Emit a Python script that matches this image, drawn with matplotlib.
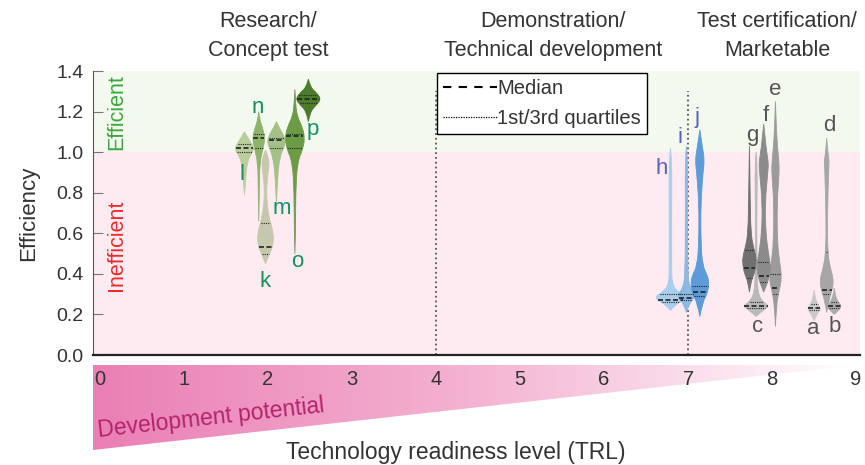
import numpy as np
import matplotlib.pyplot as plt
from matplotlib.path import Path
from matplotlib.patches import PathPatch, Polygon
from matplotlib.lines import Line2D
from matplotlib.colors import LinearSegmentedColormap

plt.rcParams['font.family'] = ['Liberation Sans', 'DejaVu Sans']

# efficiency distributions per technology (label -> TRL, stats, density profile)
names = ['a', 'b', 'c', 'd', 'e', 'f', 'g', 'h', 'i', 'j', 'k', 'l', 'm', 'n', 'o', 'p']
trl = [8.50, 8.74, 7.81, 8.65, 8.04, 7.90, 7.73, 6.79, 6.98, 7.14, 1.97, 1.72, 2.10, 1.89, 2.32, 2.48]
medians = [0.23, 0.24, 0.24, 0.32, 0.33, 0.39, 0.43, 0.27, 0.28, 0.31, 0.53, 1.02, 1.06, 1.07, 1.08, 1.26]
q1 = [0.22, 0.23, 0.23, 0.30, 0.30, 0.36, 0.38, 0.26, 0.27, 0.29, 0.50, 1.00, 1.02, 1.02, 1.02, 1.24]
q3 = [0.25, 0.26, 0.26, 0.51, 0.40, 0.46, 0.52, 0.30, 0.30, 0.34, 0.65, 1.04, 1.07, 1.09, 1.09, 1.28]

levels = {
    'a': [0.17, 0.21, 0.23, 0.25, 0.28, 0.32],
    'b': [0.20, 0.22, 0.24, 0.26, 0.29, 0.33],
    'c': [0.19, 0.22, 0.24, 0.26, 0.30, 0.40, 0.70, 0.95, 1.00],
    'd': [0.21, 0.27, 0.32, 0.37, 0.42, 0.50, 0.70, 0.93, 0.96, 1.00, 1.07],
    'e': [0.14, 0.25, 0.32, 0.38, 0.45, 0.55, 0.75, 0.88, 0.93, 1.00, 1.10, 1.25],
    'f': [0.31, 0.35, 0.40, 0.44, 0.50, 0.60, 0.75, 0.90, 0.95, 1.00, 1.14],
    'g': [0.31, 0.36, 0.40, 0.44, 0.48, 0.53, 0.60, 0.80, 1.03],
    'h': [0.22, 0.25, 0.27, 0.29, 0.31, 0.35, 0.45, 0.70, 0.95, 1.02],
    'i': [0.21, 0.25, 0.28, 0.30, 0.33, 0.40, 0.70, 0.98, 1.03],
    'j': [0.19, 0.26, 0.30, 0.35, 0.39, 0.44, 0.55, 0.75, 0.90, 0.96, 1.02, 1.11],
    'k': [0.45, 0.50, 0.54, 0.60, 0.66, 0.75, 0.85, 0.93, 0.97, 1.01],
    'l': [0.79, 0.85, 0.95, 1.00, 1.02, 1.06, 1.10],
    'm': [0.75, 0.85, 0.98, 1.04, 1.08, 1.12, 1.15],
    'n': [0.66, 0.80, 0.95, 1.02, 1.07, 1.12, 1.16, 1.20],
    'o': [0.50, 0.60, 0.80, 0.95, 1.02, 1.07, 1.12, 1.18, 1.25, 1.31],
    'p': [1.15, 1.20, 1.23, 1.26, 1.29, 1.32, 1.36],
}
density = {
    'a': [0, 0.55, 1, 0.55, 0.15, 0],
    'b': [0, 0.55, 1, 0.55, 0.15, 0],
    'c': [0, 0.5, 1, 0.55, 0.15, 0.06, 0.05, 0.1, 0],
    'd': [0, 0.3, 0.8, 1, 0.6, 0.12, 0.1, 0.3, 0.35, 0.15, 0],
    'e': [0, 0.15, 0.6, 1, 0.7, 0.3, 0.25, 0.55, 0.6, 0.4, 0.15, 0],
    'f': [0, 0.5, 0.9, 1, 0.7, 0.3, 0.2, 0.6, 0.7, 0.4, 0],
    'g': [0, 0.2, 0.7, 0.95, 1, 0.6, 0.2, 0.1, 0],
    'h': [0, 0.35, 0.9, 1, 0.5, 0.1, 0.08, 0.08, 0.1, 0],
    'i': [0, 0.3, 0.9, 1, 0.4, 0.15, 0.12, 0.15, 0],
    'j': [0, 0.3, 0.8, 1, 0.85, 0.3, 0.12, 0.1, 0.35, 0.5, 0.3, 0],
    'k': [0, 0.5, 0.95, 1, 0.55, 0.15, 0.15, 0.45, 0.4, 0],
    'l': [0, 0.1, 0.25, 0.8, 1, 0.5, 0],
    'm': [0, 0.08, 0.35, 1, 0.85, 0.3, 0],
    'n': [0, 0.08, 0.15, 0.7, 1, 0.6, 0.15, 0],
    'o': [0, 0.06, 0.08, 0.25, 0.85, 1, 0.8, 0.2, 0.06, 0],
    'p': [0, 0.15, 0.6, 1, 0.7, 0.15, 0],
}

# label positions (TRL, efficiency)
label_x = [8.49, 8.75, 7.83, 8.68, 8.04, 7.92, 7.77, 6.69, 6.90, 7.11, 1.97, 1.69, 2.17, 1.88, 2.35, 2.53]
label_y = [0.13, 0.14, 0.14, 1.13, 1.31, 1.18, 1.08, 0.92, 1.07, 1.17, 0.36, 0.89, 0.72, 1.22, 0.46, 1.11]

stages = ['Research/\nConcept test', 'Demonstration/\nTechnical development', 'Test certification/\nMarketable']
stage_x = [268, 553, 777]

# style
face = {'a': '#c9c9c9', 'b': '#ababab', 'c': '#b9b9b9', 'd': '#a6a6a6', 'e': '#9b9b9b',
        'f': '#8b8b8b', 'g': '#707070', 'h': '#a9cdec', 'i': '#8cb9e3', 'j': '#5b9bd8',
        'k': '#c6c8ad', 'l': '#bacd9c', 'm': '#a4c087', 'n': '#8eb46c', 'o': '#6c9b46', 'p': '#4b7b2b'}
halfw_px = {'a': 6, 'b': 6.5, 'c': 11.5, 'd': 6, 'e': 5.5, 'f': 6, 'g': 6, 'h': 13, 'i': 7.5,
            'j': 8, 'k': 7, 'l': 8.5, 'm': 8, 'n': 5.5, 'o': 8.5, 'p': 11}
label_col = {'green': '#16905e', 'blue': '#5a5fc0', 'grey': '#555555'}
PX = 84.2  # pixels per TRL unit


def violin_path(x, ys, ds, hw):
    right = [(x + d * hw, y) for y, d in zip(ys, ds)]
    left = [(x - d * hw, y) for y, d in zip(ys, ds)][::-1]
    verts, codes = [right[0]], [Path.MOVETO]
    for side in (right, left):
        n = len(side)
        for k in range(1, n - 1):
            if k == n - 2:
                end = side[-1]
            else:
                end = ((side[k][0] + side[k + 1][0]) / 2, (side[k][1] + side[k + 1][1]) / 2)
            verts += [side[k], end]
            codes += [Path.CURVE3, Path.CURVE3]
    verts.append(right[0])
    codes.append(Path.CLOSEPOLY)
    return Path(verts, codes)


fig = plt.figure(figsize=(8.65, 4.65), dpi=100)
ax = fig.add_axes([93 / 865, 1 - 355 / 465, 767 / 865, 284 / 465])
ax.set_xlim(-7 / PX, 760 / PX + 0.02)
ax.set_ylim(0, 1.4)

ax.axhspan(1.0, 1.4, color='#f4f9ef', zorder=0)
ax.axhspan(0.0, 1.0, color='#fdebf1', zorder=0)
ax.text(0.2, 1.2, 'Efficient', rotation=90, color='#3aa83a', fontsize=15.5, ha='center', va='center')
ax.text(0.2, 0.54, 'Inefficient', rotation=90, color='#ee2a2a', fontsize=15.5, ha='center', va='center')

for xv in (4, 7):
    ax.plot([xv, xv], [0, 1.3], ls=':', color='#555555', lw=1.3, zorder=2)

for i, nm in enumerate(names):
    x = trl[i]
    hw = halfw_px[nm] * 1.15 / PX
    ax.add_patch(PathPatch(violin_path(x, levels[nm], density[nm], hw),
                           facecolor=face[nm], edgecolor=face[nm], lw=0.6, zorder=3))
    for val, style, lw in ((medians[i], (0, (3, 1.5)), 1.2), (q1[i], (0, (1, 1)), 0.8), (q3[i], (0, (1, 1)), 0.8)):
        w = np.interp(val, levels[nm], density[nm]) * hw * 0.9
        ax.plot([x - w, x + w], [val, val], color='#222222', ls=style, lw=lw, zorder=4)
    if x < 4:
        col = label_col['green']
    elif x < 7.5:
        col = label_col['blue']
    else:
        col = label_col['grey']
    ax.text(label_x[i], label_y[i], nm, color=col, fontsize=16, ha='center', va='center', zorder=5)

ax.set_yticks(np.arange(0, 1.41, 0.2))
ax.set_yticklabels([f'{v:.1f}' for v in np.arange(0, 1.41, 0.2)])
ax.tick_params(axis='y', direction='in', length=7, color='#777777', labelsize=14,
               labelcolor='#333333', pad=7)
ax.set_xticks(range(10))
ax.set_xticklabels([str(v) for v in range(10)])
ax.tick_params(axis='x', length=0, labelsize=14.5, labelcolor='#333333', pad=11)
for s in ('top', 'right'):
    ax.spines[s].set_visible(False)
ax.spines['left'].set_color('#555555')
ax.spines['bottom'].set_color('#222222')
ax.spines['bottom'].set_linewidth(1.6)
ax.set_ylabel('Efficiency', fontsize=16, color='#333333', labelpad=12)

handles = [Line2D([], [], color='black', ls=(0, (4, 3.5)), lw=1.5),
           Line2D([], [], color='black', ls=(0, (1, 1)), lw=0.9)]
leg = ax.legend(handles, ['Median', '1st/3rd quartiles'], loc='upper left',
                bbox_to_anchor=(437 / 865, 1 - 73 / 465), bbox_transform=fig.transFigure,
                borderaxespad=0, fontsize=14.5, handlelength=2.7, handletextpad=0.0,
                labelspacing=0.55, borderpad=0.3, fancybox=False, framealpha=1)
leg.get_frame().set_edgecolor('black')
leg.get_frame().set_linewidth(1.0)
for t in leg.get_texts():
    t.set_color('#333333')

# development potential wedge under the axis
wax = fig.add_axes([93 / 865, 1 - 450 / 465, 765 / 865, 85 / 465])
wax.set_zorder(-1)
wax.axis('off')
grad = np.linspace(0, 1, 256)[None, :]
cmap = LinearSegmentedColormap.from_list('dev', ['#ea7fb4', '#f4b3d2', '#ffffff'])
img = wax.imshow(grad, extent=[0, 1, 0, 1], aspect='auto', cmap=cmap)
tri = Polygon([(0, 1), (1, 1), (0, 0)], closed=True, transform=wax.transData)
img.set_clip_path(tri)
wax.set_xlim(0, 1)
wax.set_ylim(0, 1)
fig.text(98 / 865, 1 - 437 / 465, 'Development potential', rotation=6.3, rotation_mode='anchor',
         color='#b2246b', fontsize=16.5, ha='left', va='baseline')

fig.text(456 / 865, 1 - 452 / 465, 'Technology readiness level (TRL)', fontsize=16.5,
         color='#333333', ha='center', va='center')

for label, px in zip(stages, stage_x):
    fig.text(px / 865, 1 - 36 / 465, label, fontsize=15.5, color='#333333', ha='center',
             va='center', linespacing=1.5)

fig.savefig('out.png', dpi=100)
